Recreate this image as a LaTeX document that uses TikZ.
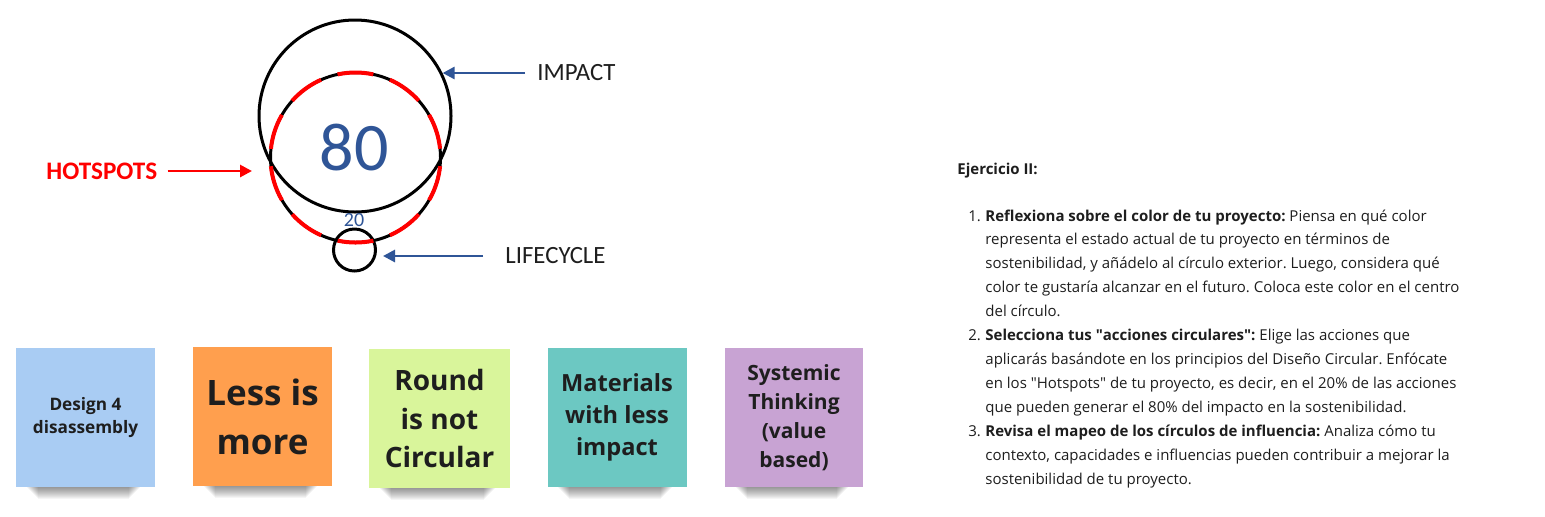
\documentclass[tikz,border=0pt]{standalone}
\usepackage{fontspec}
\setmainfont{Open Sans}
\newfontfamily\calib{Carlito}
\usetikzlibrary{arrows.meta,calc}
\frenchspacing
\definecolor{impblue}{HTML}{2F5597}
\definecolor{hotred}{HTML}{FF0000}
\definecolor{txt}{HTML}{1E1E1E}
\definecolor{nblue}{HTML}{A9CCF3}
\definecolor{norange}{HTML}{FF9F4E}
\definecolor{ngreen}{HTML}{D9F59B}
\definecolor{nteal}{HTML}{6CC8C2}
\definecolor{npurple}{HTML}{C8A3D3}
\tikzset{
  ring/.style={draw=black, circle, line width=1.5pt, inner sep=0pt},
  lbl/.style={anchor=west, inner sep=0pt, text=txt, font=\calib\fontsize{12.4pt}{14pt}\selectfont},
  bluearrow/.style={draw=impblue, line width=1.4pt, -{Triangle[length=6pt,width=6pt]}},
  redarrow/.style={draw=hotred, line width=1.4pt, -{Triangle[length=6pt,width=6pt]}},
  note/.style={minimum width=69.5pt, minimum height=69.5pt, inner sep=0pt, align=center, text=txt},
  para/.style={anchor=base west, inner sep=0pt, text=txt, font=\fontsize{7.5pt}{9pt}\selectfont},
}
\begin{document}
\begin{tikzpicture}[x=0.5pt,y=-0.5pt]
\useasboundingbox (0,0) rectangle (1545,516);
\fill[white] (0,0) rectangle (1545,516);

% circles
\node[ring, minimum size=96pt] (impact) at (355,116) {};
\node[ring, minimum size=85pt] (hot) at (355.5,157.5) {};
\node[ring, minimum size=21pt] (life) at (354.5,250) {};
\draw[hotred, line width=2pt, dash pattern=on 18pt off 8.7pt, dash phase=22.3pt] (hot.center) circle[radius=42.5pt];

\node[text=impblue, font=\calib\fontsize{34pt}{40pt}\selectfont] (eighty) at (354,148) {80};
\node[text=impblue, font=\calib\fontsize{10pt}{12pt}\selectfont] (twenty) at (354,220) {20};

% labels and arrows
\node[lbl, text=hotred, font=\calib\bfseries\fontsize{12.6pt}{14pt}\selectfont] (hotlabel) at (46,171) {HOTSPOTS};
\node[lbl] (implabel) at (537,73) {IMPACT};
\node[lbl] (lclabel) at (505,256) {LIFECYCLE};
\draw[redarrow, shorten <=5pt, shorten >=8.5pt] (hotlabel.east) -- (hotlabel.east -| hot.west);
\draw[bluearrow, shorten <=6pt] (implabel.west) -- (implabel.west -| impact.26);
\draw[bluearrow, shorten <=11pt, shorten >=3pt] (lclabel.west) -- (lclabel.west -| life.east);

% sticky notes
\node[note, fill=nblue, font=\bfseries\fontsize{8.6pt}{11.5pt}\selectfont] (n1) at (85.5,417.5) {Design 4\\disassembly};
\node[note, fill=norange, font=\bfseries\fontsize{17.5pt}{24.5pt}\selectfont] (n2) at (262.5,416.5) {Less is\\more};
\node[note, fill=ngreen, minimum width=70.5pt, font=\bfseries\fontsize{14pt}{19.3pt}\selectfont] (n3) at (439.5,418.5) {Round\\is not\\Circular};
\node[note, fill=nteal, font=\bfseries\fontsize{11.8pt}{16pt}\selectfont] (n4) at (617,417.5) {Materials\\with less\\impact};
\node[note, fill=npurple, minimum width=69pt, font=\bfseries\fontsize{10.5pt}{14.5pt}\selectfont] (n5) at (794,417.5) {Systemic\\Thinking\\(value\\based)};
\foreach \n in {n1,n2,n3,n4,n5}{
  \foreach \k in {1,...,12}{
    \fill[black, opacity=0.04] ($(\n.south west)+(10+\k,0)$) rectangle ($(\n.south east)+(-14-\k,\k)$);
  }
}

% paragraph
\node[para, font=\bfseries\fontsize{7.5pt}{9pt}\selectfont] (title) at (957,174) {Ejercicio II:};
\node[para] (num1) at (968,221) {1.};
\node[para] (l1) at (985,221) {\textbf{Reflexiona sobre el color de tu proyecto:} Piensa en qué color};
\node[para] (l2) at (985,244.95) {representa el estado actual de tu proyecto en términos de};
\node[para] (l3) at (985,268.9) {sostenibilidad, y añádelo al círculo exterior. Luego, considera qué};
\node[para] (l4) at (985,292.85) {color te gustaría alcanzar en el futuro. Coloca este color en el centro};
\node[para] (l5) at (985,316.8) {del círculo.};
\node[para] (num2) at (968,340.75) {2.};
\node[para] (l6) at (985,340.75) {\textbf{Selecciona tus \textquotedbl acciones circulares\textquotedbl:} Elige las acciones que};
\node[para] (l7) at (985,364.7) {aplicarás basándote en los principios del Diseño Circular. Enfócate};
\node[para] (l8) at (985,388.65) {en los \textquotedbl Hotspots\textquotedbl\ de tu proyecto, es decir, en el 20\% de las acciones};
\node[para] (l9) at (985,412.6) {que pueden generar el 80\% del impacto en la sostenibilidad.};
\node[para] (num3) at (968,436.55) {3.};
\node[para] (l10) at (985,436.55) {\textbf{Revisa el mapeo de los círculos de influencia:} Analiza cómo tu};
\node[para] (l11) at (985,460.5) {contexto, capacidades e influencias pueden contribuir a mejorar la};
\node[para] (l12) at (985,484.45) {sostenibilidad de tu proyecto.};
\end{tikzpicture}
\end{document}
